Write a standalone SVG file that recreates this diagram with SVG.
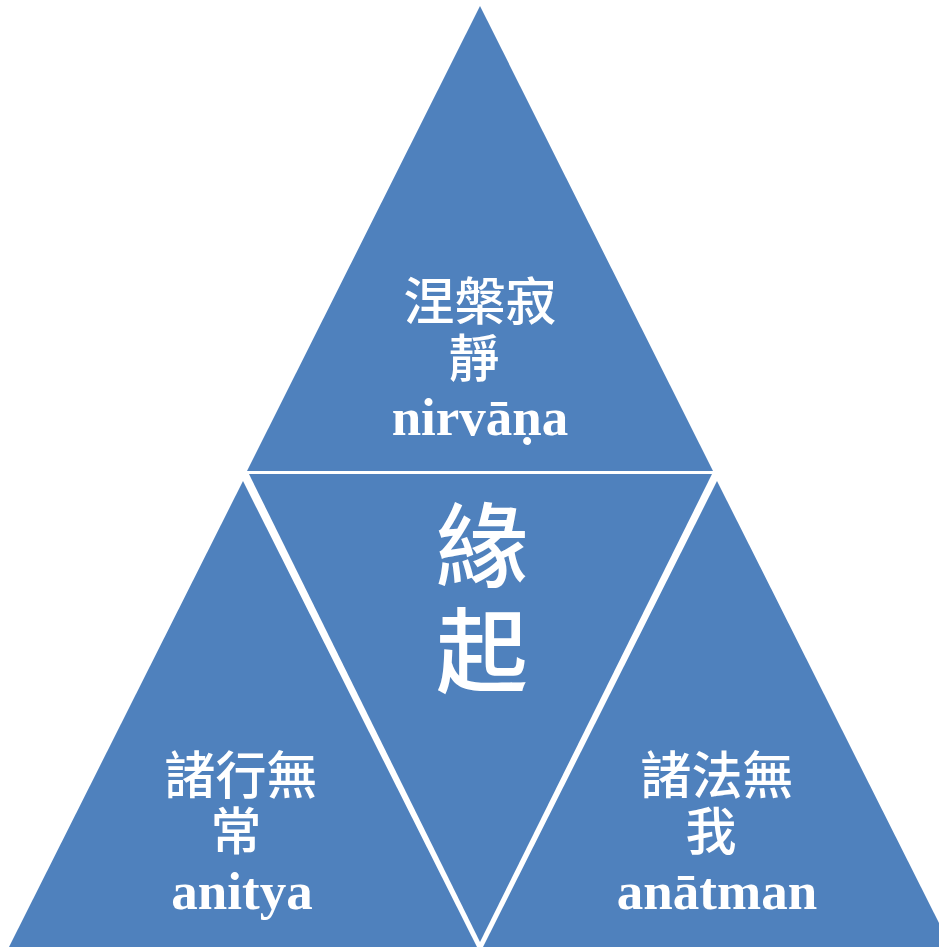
<svg xmlns="http://www.w3.org/2000/svg" width="939" height="947" viewBox="0 0 939 947">
<style>
.tri{fill:#4F81BD;}
.cjk{font-family:"Noto Sans CJK TC","Noto Sans CJK SC",sans-serif;fill:#fff;text-anchor:middle;font-weight:500;}
.lat{font-family:"Liberation Serif",serif;font-weight:bold;fill:#fff;text-anchor:middle;font-size:53px;}
</style>
<rect width="939" height="947" fill="#fff"/>
<g id="top">
<polygon class="tri" points="480,6 247,471 713,471"/>
<text class="cjk" x="480" y="320" font-size="51">涅槃寂</text>
<text class="cjk" x="474" y="377" font-size="51">靜</text>
<text class="lat" x="480" y="435">nirvāṇa</text>
</g>
<g id="center">
<polygon class="tri" points="249,474 712,474 480,942"/>
<text class="cjk" x="482" y="580" font-size="92">緣</text>
<text class="cjk" x="482" y="685" font-size="92">起</text>
</g>
<g id="left">
<polygon class="tri" points="243,481 9,947 477,947"/>
<text class="cjk" x="241" y="794" font-size="51">諸行無</text>
<text class="cjk" x="236" y="850" font-size="51">常</text>
<text class="lat" x="242" y="909">anitya</text>
</g>
<g id="right">
<polygon class="tri" points="717,481 483,947 951,947"/>
<text class="cjk" x="717" y="794" font-size="51">諸法無</text>
<text class="cjk" x="711" y="850" font-size="51">我</text>
<text class="lat" x="717" y="909">anātman</text>
</g>
<g id="connectors"></g>
</svg>
